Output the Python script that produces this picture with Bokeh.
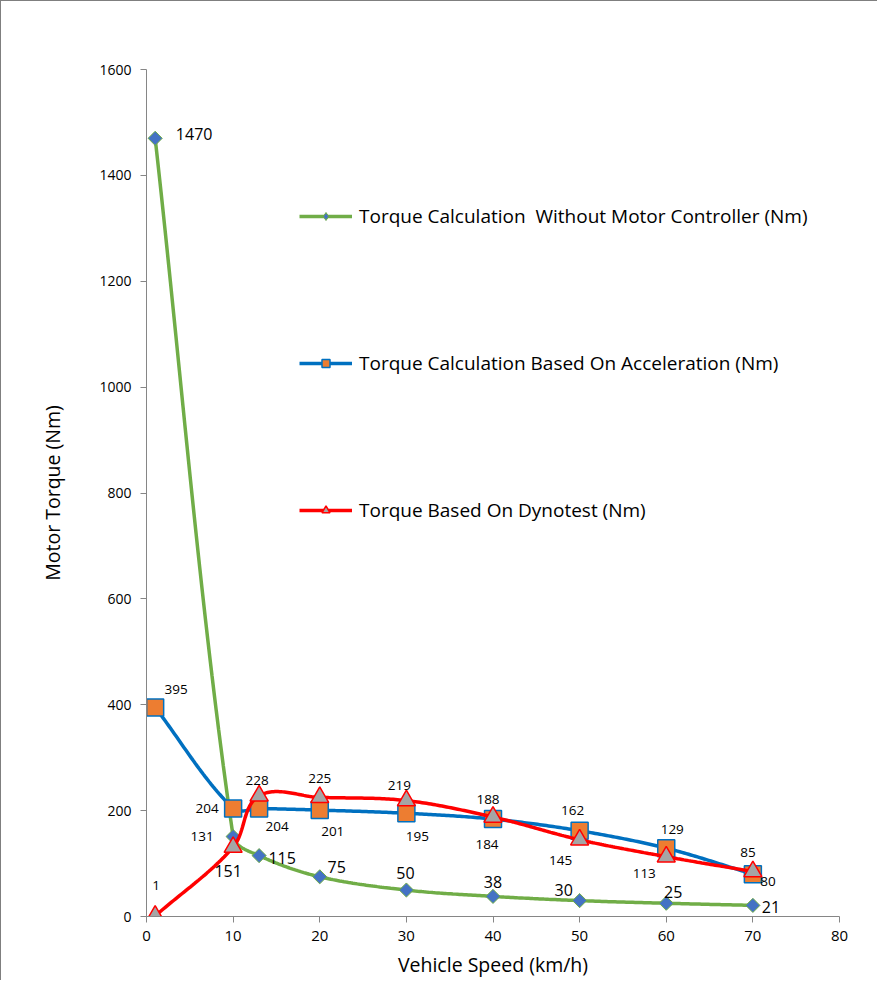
import numpy as np
from bokeh.plotting import figure
from bokeh.models import ColumnDataSource, Legend, LegendItem, Range1d, FixedTicker
from bokeh.core.properties import value
from bokeh.embed import file_html
from bokeh.resources import INLINE

# ---------------- data ----------------
speed = [1, 10, 13, 20, 30, 40, 50, 60, 70]
torque_no_ctrl = [1470, 151, 115, 75, 50, 38, 30, 25, 21]
torque_accel = [395, 204, 204, 201, 195, 184, 162, 129, 80]
torque_dyno = [1, 131, 228, 225, 219, 188, 145, 113, 85]
names = [
    "Torque Calculation  Without Motor Controller (Nm)",
    "Torque Calculation Based On Acceleration (Nm)",
    "Torque Based On Dynotest (Nm)",
]
x_ticks = [0, 10, 20, 30, 40, 50, 60, 70, 80]
y_ticks = [0, 200, 400, 600, 800, 1000, 1200, 1400, 1600]

# label placement (screen px offsets, dy positive = down)
off_no_ctrl = [(39, -4), (-5, 34), (23, 2), (17, -10), (-1, -17), (0, -14), (-16, -11), (7, -11), (18, 2)]
off_accel = [(21, -18), (-26, 0), (18, 18), (13, 21), (11, 23), (-6, 25), (-7, -20), (6, -19), (15, 7)]
off_dyno = [(1, -30), (-31, -11), (-2, -15), (0, -19), (-7, -15), (-5, -17), (-19, 21), (-22, 17), (-5, -19)]

FONT = "Open Sans"
AX = "#868686"

W, H = 877, 980
ML, MR, MT, MB = 145, 39, 68, 65
fw = W - ML - MR
fh = H - MT - MB
SX = fw / 80.0
SY = fh / 1600.0


def smooth(xs, ys, n=40):
    """Excel-like smoothed line (Bezier, chord-weighted tangents) in screen space."""
    P = np.column_stack([np.asarray(xs, float) * SX, np.asarray(ys, float) * SY])
    outx, outy = [P[0][0]], [P[0][1]]
    t = np.linspace(0, 1, n)[1:][:, None]

    def tangent(i):
        a = P[i - 1] if i > 0 else P[i]
        b = P[i + 1] if i + 1 < len(P) else P[i]
        d = b - a
        nd = np.hypot(*d)
        return d / nd if nd > 0 else d

    for i in range(len(P) - 1):
        p1, p2 = P[i], P[i + 1]
        L = np.hypot(*(p2 - p1))
        c1 = p1 + tangent(i) * L / 3.0
        c2 = p2 - tangent(i + 1) * L / 3.0
        b = ((1 - t) ** 3) * p1 + 3 * ((1 - t) ** 2) * t * c1 + 3 * (1 - t) * t ** 2 * c2 + t ** 3 * p2
        outx.extend(b[:, 0]); outy.extend(b[:, 1])
    return np.array(outx) / SX, np.array(outy) / SY


p = figure(width=W, height=H, x_range=Range1d(0, 80), y_range=Range1d(0, 1600),
           output_backend="svg", toolbar_location=None,
           min_border_left=ML, min_border_right=MR, min_border_top=MT, min_border_bottom=MB)
p.outline_line_color = None
p.xgrid.visible = False
p.ygrid.visible = False
p.background_fill_color = "white"
p.border_fill_color = "white"
p.styles = {"border-left": "1px solid #7f7f7f", "border-top": "1px solid #7f7f7f"}

for ax in (p.xaxis[0], p.yaxis[0]):
    ax.axis_line_color = AX
    ax.major_tick_line_color = AX
    ax.minor_tick_line_color = None
    ax.major_tick_in = 0
    ax.major_tick_out = 6
    ax.major_label_text_font = FONT
    ax.major_label_text_color = "#000000"
    ax.axis_label_text_font = FONT
    ax.axis_label_text_font_size = "19.5px"
    ax.axis_label_text_font_style = "normal"
    ax.axis_label_text_color = "#000000"

p.xaxis.major_label_text_font_size = "15px"
p.yaxis.major_label_text_font_size = "14px"
p.xaxis.ticker = FixedTicker(ticks=x_ticks)
p.yaxis.ticker = FixedTicker(ticks=y_ticks)
p.xaxis.axis_label = "Vehicle Speed (km/h)"
p.yaxis.axis_label = "Motor Torque (Nm)"
p.xaxis.major_label_standoff = 8
p.xaxis.axis_label_standoff = 7
p.yaxis.major_label_standoff = 9
p.yaxis.axis_label_standoff = 30

items = []
series = [
    (torque_no_ctrl, "#70AD47", dict(marker="square", angle=np.pi / 4, size=10, fill_color="#4472C4", line_color="#70AD47", line_width=1),
     dict(marker="diamond", size=10, fill_color="#4472C4", line_color="#70AD47", line_width=1), off_no_ctrl, "16px"),
    (torque_accel, "#0070C0", dict(marker="square", size=17, fill_color="#ED7D31", line_color="#0070C0", line_width=1.5),
     None, off_accel, "13.5px"),
    (torque_dyno, "#FF0000", dict(marker="triangle", size=18, fill_color="#A5A5A5", line_color="#FF0000", line_width=1.5),
     None, off_dyno, "13.5px"),
]
text_sources = []
for (vals, col, mk, legmk, offs, fs), name in zip(series, names):
    sx, sy = smooth(speed, vals)
    lr = p.line(sx, sy, line_color=col, line_width=3.5)
    src = ColumnDataSource(dict(x=speed, y=vals, t=[str(v) for v in vals],
                                dx=[o[0] for o in offs], dy=[o[1] for o in offs]))
    sr = p.scatter("x", "y", source=src, **mk)
    if legmk is not None:
        lg = p.scatter("x", "y", source=src, visible=False, **legmk)
    else:
        lg = sr
    text_sources.append((src, fs))
    items.append(LegendItem(label=name, renderers=[lr, lg]))

for src, fs in text_sources:
    p.text("x", "y", text="t", x_offset="dx", y_offset="dy", source=src,
           text_font=value(FONT), text_font_size=fs, text_align="center",
           text_baseline="middle", text_color="#000000")

item_h = 27
gap = 147 - item_h
leg_h = 3 * item_h + 2 * gap
leg_top = 147 - item_h / 2
legend = Legend(items=items, location=(153, fh - leg_top - leg_h), spacing=gap,
                glyph_width=53, glyph_height=20, label_height=item_h, label_standoff=7,
                padding=0, margin=0, border_line_alpha=0, background_fill_alpha=0,
                label_text_font=FONT, label_text_font_size="19px", label_text_color="#000000")
p.add_layout(legend)

open("out.html", "w").write(file_html(p, INLINE))
